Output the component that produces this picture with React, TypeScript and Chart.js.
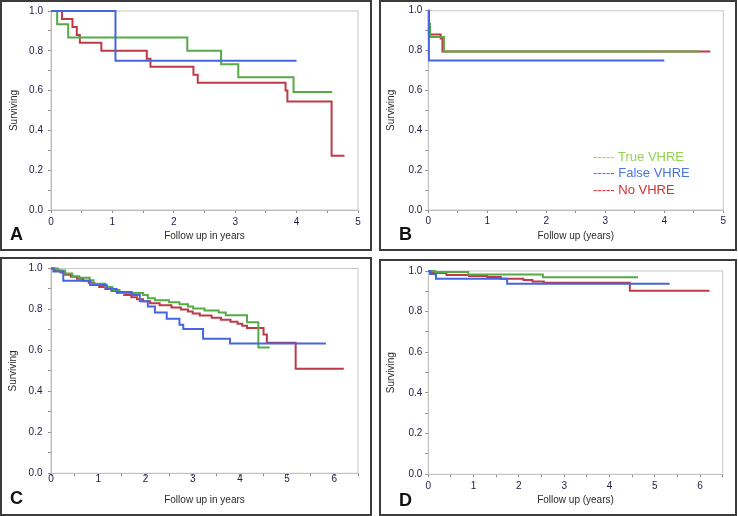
import React, { useEffect, useRef } from 'react';
import { Chart, registerables } from 'chart.js';

Chart.register(...registerables);

type Pt = [number, number];

// ---------- data ----------
const SERIES_LABELS = ['True VHRE', 'False VHRE', 'No VHRE'];
const PANEL_LETTERS = ['A', 'B', 'C', 'D'];
const X_TITLES = ['Follow up in years', 'Follow up (years)', 'Follow up in years', 'Follow up (years)'];
const Y_TITLE = 'Surviving';
const X_MAX = [5, 5, 6.5, 6.5];

const A_TRUE: Pt[] = [[0, 1], [0.1, 0.933], [0.28, 0.867], [2.22, 0.8], [2.77, 0.733], [3.05, 0.667], [3.95, 0.593], [4.58, 0.593]];
const A_FALSE: Pt[] = [[0, 1], [1.05, 0.75], [4.0, 0.75]];
const A_NO: Pt[] = [[0, 1], [0.18, 0.96], [0.35, 0.92], [0.42, 0.88], [0.47, 0.84], [0.82, 0.8], [1.56, 0.76], [1.62, 0.72], [2.32, 0.68], [2.39, 0.64], [3.82, 0.6], [3.85, 0.545], [4.57, 0.273], [4.78, 0.273]];

const B_TRUE: Pt[] = [[0, 1], [0.01, 0.935], [0.03, 0.868], [0.265, 0.795], [4.6, 0.795]];
const B_FALSE: Pt[] = [[0, 1], [0.01, 0.75], [4.0, 0.75]];
const B_NO: Pt[] = [[0, 1], [0.01, 0.88], [0.21, 0.86], [0.24, 0.795], [4.78, 0.795]];

const C_TRUE: Pt[] = [[0, 1], [0.15, 0.99], [0.3, 0.975], [0.45, 0.962], [0.6, 0.955], [0.82, 0.943], [0.9, 0.925], [1.15, 0.91], [1.3, 0.895], [1.45, 0.88], [1.95, 0.87], [2.05, 0.855], [2.2, 0.845], [2.5, 0.835], [2.72, 0.825], [2.9, 0.815], [3.01, 0.805], [3.25, 0.795], [3.55, 0.785], [3.7, 0.772], [4.15, 0.738], [4.39, 0.614], [4.63, 0.614]];
const C_FALSE: Pt[] = [[0, 1], [0.05, 0.985], [0.26, 0.94], [0.83, 0.92], [1.18, 0.9], [1.39, 0.885], [1.71, 0.87], [1.88, 0.84], [2.05, 0.815], [2.2, 0.785], [2.45, 0.755], [2.72, 0.725], [2.8, 0.705], [3.22, 0.657], [3.79, 0.634], [5.82, 0.634]];
const C_NO: Pt[] = [[0, 1], [0.08, 0.99], [0.2, 0.98], [0.3, 0.97], [0.42, 0.96], [0.55, 0.95], [0.68, 0.94], [0.8, 0.93], [0.92, 0.92], [1.02, 0.91], [1.15, 0.9], [1.28, 0.89], [1.4, 0.88], [1.55, 0.87], [1.7, 0.86], [1.82, 0.85], [1.95, 0.84], [2.1, 0.83], [2.3, 0.82], [2.55, 0.81], [2.75, 0.8], [2.9, 0.79], [3.0, 0.78], [3.15, 0.77], [3.4, 0.76], [3.6, 0.75], [3.8, 0.74], [3.95, 0.73], [4.05, 0.72], [4.15, 0.71], [4.5, 0.678], [4.57, 0.638], [5.18, 0.51], [6.2, 0.51]];

const D_TRUE: Pt[] = [[0, 1], [0.15, 0.995], [0.88, 0.983], [2.53, 0.969], [4.63, 0.969]];
const D_FALSE: Pt[] = [[0, 1], [0.04, 0.985], [0.17, 0.962], [1.74, 0.937], [5.33, 0.937]];
const D_NO: Pt[] = [[0, 1], [0.05, 0.99], [0.4, 0.98], [0.9, 0.975], [1.3, 0.97], [1.6, 0.962], [2.1, 0.956], [2.3, 0.948], [2.55, 0.942], [4.45, 0.903], [6.21, 0.903]];

const PANEL_DATA: Pt[][][] = [
  [A_TRUE, A_FALSE, A_NO],
  [B_TRUE, B_FALSE, B_NO],
  [C_TRUE, C_FALSE, C_NO],
  [D_TRUE, D_FALSE, D_NO],
];

// ---------- styles ----------
const LINE_COLORS = ['#55ab45', '#4566e0', '#bf3a47'];
const LEGEND_COLORS = ['#92d050', '#4a74dc', '#d62f2f'];
const DRAW_ORDER = [1, 0, 2];
const FONT = "'Liberation Sans', Arial, sans-serif";

type Layout = {
  L: number; T: number; W: number; H: number;
  pl: number; pt: number; pr: number; pb: number;
  yPad: number; yTitlePad: number; xPad: number; xTitlePad: number;
  letterX: number; letterY: number;
};

const LAYOUTS: Layout[] = [
  { L: 0, T: 0, W: 372, H: 251, pl: 51, pt: 10.7, pr: 358, pb: 210, yPad: 5, yTitlePad: 8, xPad: 3, xTitlePad: 9, letterX: 10, letterY: 225 },
  { L: 379, T: 0, W: 358, H: 251, pl: 49.3, pt: 10.7, pr: 344.3, pb: 210, yPad: 3, yTitlePad: 6.7, xPad: 2.7, xTitlePad: 9, letterX: 399, letterY: 225 },
  { L: 0, T: 257, W: 372, H: 259, pl: 51, pt: 11.3, pr: 358, pb: 216.3, yPad: 5.5, yTitlePad: 7.3, xPad: -3, xTitlePad: 10, letterX: 10, letterY: 488.5 },
  { L: 379, T: 259, W: 358, H: 257, pl: 49.3, pt: 12, pr: 343.7, pb: 215.3, yPad: 3, yTitlePad: 6.7, xPad: 2.7, xTitlePad: 10, letterX: 399, letterY: 491 },
];

const framePlugin = {
  id: 'frame',
  beforeDatasetsDraw(chart: any) {
    const { ctx, chartArea: a } = chart;
    ctx.save();
    ctx.strokeStyle = '#c6c6c6';
    ctx.lineWidth = 1;
    ctx.strokeRect(a.left, a.top, a.right - a.left, a.bottom - a.top);
    ctx.restore();
  },
};

function Panel({ idx }: { idx: number }) {
  const ref = useRef<HTMLCanvasElement | null>(null);
  const lay = LAYOUTS[idx];
  useEffect(() => {
    if (!ref.current) return;
    const series = PANEL_DATA[idx];
    const chart = new Chart(ref.current, {
      type: 'line',
      data: {
        datasets: series.map((pts, i) => ({
          label: SERIES_LABELS[i],
          data: pts.map(([x, y]) => ({ x, y })),
          borderColor: LINE_COLORS[i],
          backgroundColor: LINE_COLORS[i],
          borderWidth: 2,
          pointRadius: 0,
          stepped: 'before' as const,
          fill: false,
          clip: false as any,
          order: DRAW_ORDER[i],
        })),
      },
      options: {
        animation: false,
        responsive: false,
        devicePixelRatio: 1,
        events: [],
        layout: { padding: { left: 0, top: lay.pt, right: lay.W - lay.pr, bottom: 0 } },
        plugins: { legend: { display: false }, tooltip: { enabled: false } },
        scales: {
          x: {
            type: 'linear',
            min: 0,
            max: X_MAX[idx],
            afterFit: (s: any) => { s.height = lay.H - lay.pb; },
            ticks: {
              stepSize: 0.5,
              autoSkip: false,
              maxRotation: 0,
              padding: lay.xPad,
              color: '#1c1c44',
              font: { family: FONT, size: 10 },
              callback: (v: any) => (Math.abs(v - Math.round(v)) < 1e-6 ? String(Math.round(v)) : ''),
            },
            grid: { drawOnChartArea: false, drawTicks: true, tickLength: 3, color: '#8a8a8a', tickColor: '#8a8a8a' },
            border: { display: true, color: '#b0b0b0' },
            title: { display: true, text: X_TITLES[idx], color: '#2a2a2a', font: { family: FONT, size: 10 }, padding: { top: 0, bottom: lay.xTitlePad } },
          },
          y: {
            type: 'linear',
            min: 0,
            max: 1,
            afterFit: (s: any) => { s.width = lay.pl; },
            ticks: {
              stepSize: 0.1,
              autoSkip: false,
              padding: lay.yPad,
              color: '#1c1c44',
              font: { family: FONT, size: 10 },
              callback: (v: any) => {
                const r = Math.round(v * 10);
                return r % 2 === 0 ? (r / 10).toFixed(1) : '';
              },
            },
            grid: { drawOnChartArea: false, drawTicks: true, tickLength: 3, color: '#8a8a8a', tickColor: '#8a8a8a' },
            border: { display: true, color: '#b0b0b0' },
            title: { display: true, text: Y_TITLE, color: '#2a2a2a', font: { family: FONT, size: 10 }, padding: { top: lay.yTitlePad, bottom: 0 } },
          },
        },
      },
      plugins: [framePlugin],
    } as any);
    return () => chart.destroy();
  }, [idx]);

  return (
    <>
      <canvas
        ref={ref}
        width={lay.W}
        height={lay.H}
        style={{ position: 'absolute', left: lay.L, top: lay.T, width: lay.W, height: lay.H }}
      />
      <div
        style={{
          position: 'absolute', left: lay.L, top: lay.T, width: lay.W, height: lay.H,
          boxSizing: 'border-box', border: '2px solid #3c3c3c', pointerEvents: 'none',
        }}
      />
      <div
        style={{
          position: 'absolute', left: lay.letterX, top: lay.letterY,
          fontFamily: FONT, fontWeight: 700, fontSize: 18, lineHeight: 1, color: '#111',
        }}
      >
        {PANEL_LETTERS[idx]}
      </div>
    </>
  );
}

export default function App() {
  return (
    <div style={{ position: 'absolute', left: 0, top: 0, width: 738, height: 516, background: '#fff', overflow: 'hidden' }}>
      {[0, 1, 2, 3].map((i) => <Panel key={i} idx={i} />)}
      <div
        style={{
          position: 'absolute', left: 593, top: 149, fontFamily: FONT, fontSize: 13,
          lineHeight: '16.4px', whiteSpace: 'pre',
        }}
      >
        {SERIES_LABELS.map((lab, i) => (
          <div key={lab} style={{ color: LEGEND_COLORS[i] }}>{'----- ' + lab}</div>
        ))}
      </div>
    </div>
  );
}
